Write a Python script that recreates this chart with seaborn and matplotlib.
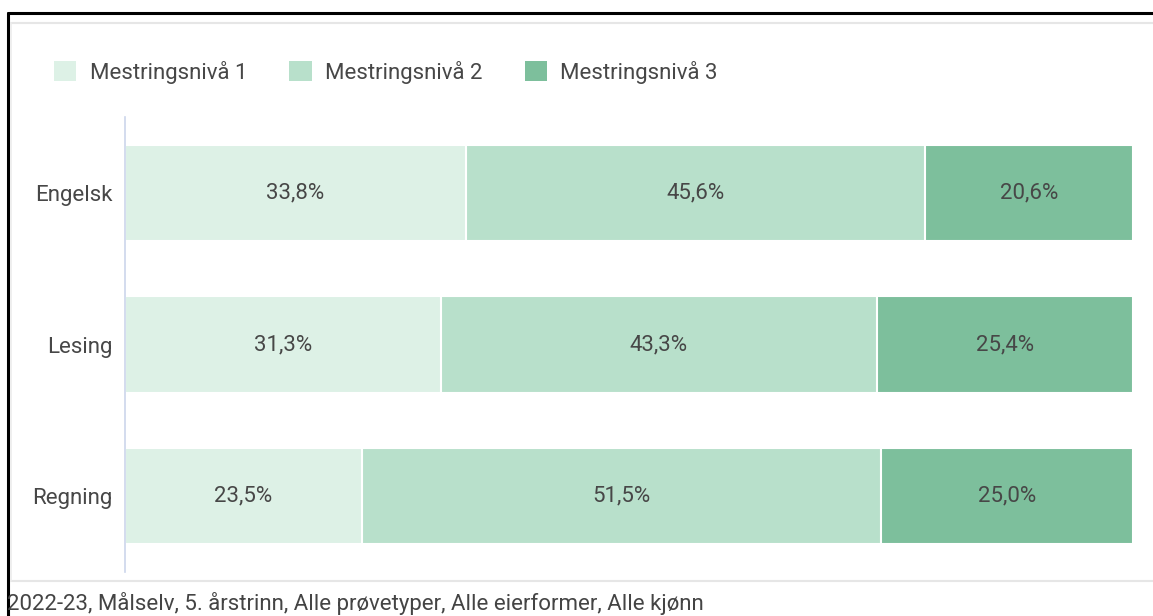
import matplotlib
matplotlib.use("Agg")
import matplotlib.pyplot as plt
import seaborn as sns
import pandas as pd
import numpy as np
from matplotlib.lines import Line2D
from matplotlib.patches import Rectangle

subjects = ["Engelsk", "Lesing", "Regning"]
levels = ["Mestringsnivå 1", "Mestringsnivå 2", "Mestringsnivå 3"]
level1 = [33.8, 31.3, 23.5]
level2 = [45.6, 43.3, 51.5]
level3 = [20.6, 25.4, 25.0]
caption = "2022-23, Målselv, 5. årstrinn, Alle prøvetyper, Alle eierformer, Alle kjønn"

colors = ["#ddf1e6", "#b8e0cb", "#7dbf9c"]
text_color = "#474747"
fs = 16

sns.set_theme(style="white")
plt.rcParams["font.family"] = ["Roboto", "DejaVu Sans"]

W, H = 1153, 616
fig = plt.figure(figsize=(W / 100, H / 100), dpi=100)
fig.patch.set_facecolor("white")

left_px, right_px, top_px, bot_px = 125, 1133, 117, 572
ax = fig.add_axes([left_px / W, 1 - bot_px / H, (right_px - left_px) / W, (bot_px - top_px) / H])

vals = np.array([level1, level2, level3])
cums = np.cumsum(vals, axis=0)

# draw from the total down so each layer overlays the previous one
for i in [2, 1, 0]:
    df = pd.DataFrame({"subject": subjects, "value": cums[i]})
    sns.barplot(data=df, x="value", y="subject", orient="h", color=colors[i],
                width=0.636, edgecolor="white", linewidth=1.5, saturation=1,
                ax=ax, zorder=2)

for i in range(3):
    for j in range(len(subjects)):
        centre = cums[i][j] - vals[i][j] / 2
        ax.text(centre, j, f"{vals[i][j]:.1f}%".replace(".", ","),
                ha="center", va="center", fontsize=fs, color=text_color, zorder=5)

ax.set_xlim(0, 100)
ax.set_ylim(2.5, -0.5)
ax.set_xlabel("")
ax.set_ylabel("")
ax.set_xticks([])
ax.tick_params(axis="y", length=0, pad=9, labelsize=fs, labelcolor=text_color)
for s in ["top", "right", "bottom"]:
    ax.spines[s].set_visible(False)
ax.spines["left"].set_color("#ccd6eb")
ax.spines["left"].set_linewidth(1.2)
ax.spines["left"].set_zorder(6)
ax.patch.set_alpha(0)

# legend
handles = [Rectangle((0, 0), 1, 1, facecolor=c, edgecolor="none") for c in colors]
fig.legend(handles, levels, loc="center left", bbox_to_anchor=(54 / W, 1 - 72 / H),
           ncol=3, frameon=False, fontsize=fs, handlelength=1.0, handleheight=1.0,
           handletextpad=0.6, columnspacing=1.9, labelcolor=text_color, borderpad=0,
           borderaxespad=0)

# frame decorations
fig.add_artist(Line2D([8 / W, 1], [1 - 13 / H, 1 - 13 / H], color="black", lw=2.2))
fig.add_artist(Line2D([8 / W, 8 / W], [0, 1 - 13 / H], color="black", lw=2.2))
fig.add_artist(Line2D([11 / W, 1], [1 - 23 / H, 1 - 23 / H], color="#e6e6e6", lw=1.5))
fig.add_artist(Line2D([11 / W, 1], [1 - 581 / H, 1 - 581 / H], color="#e6e6e6", lw=1.5))
fig.add_artist(Line2D([11 / W, 11 / W], [1 - 581 / H, 1 - 23 / H], color="#ececec", lw=1.2))

fig.text(7 / W, 1 / H, caption, ha="left", va="bottom", fontsize=fs, color="#444444")

fig.savefig("out.png", dpi=100)
